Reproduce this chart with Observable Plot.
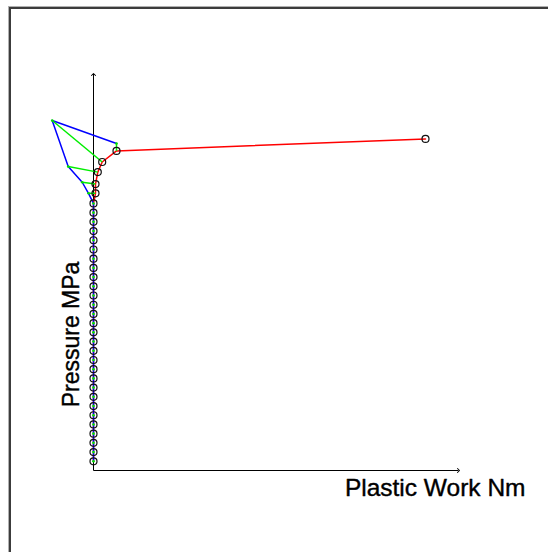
<!DOCTYPE html>
<html>
<head>
<meta charset="utf-8">
<script src="https://cdn.jsdelivr.net/npm/d3@7"></script>
<script src="https://cdn.jsdelivr.net/npm/@observablehq/plot@0.6"></script>
<style>
  html, body { margin: 0; padding: 0; background: #fff; overflow: hidden; }
  #wrap { position: relative; width: 548px; height: 552px; }
  #frame { position: absolute; left: 9px; top: 7px; width: 700px; height: 700px;
           border-left: 2px solid #3c3c3c; border-top: 2px solid #3c3c3c;
           box-shadow: -1px -1px 0 #b0b0b0; }
  #chart { position: absolute; left: 0; top: 0; }
</style>
</head>
<body>
<div id="wrap"><div id="frame"></div><div id="chart"></div></div>
<script>
// Converged states (circles, red path)
const workConverged = [0,0,0,0,0,0,0,0,0,0,0,0,0,0,0,0,0,0,0,0,0,0,0,0,0,0,0,0,0,
                       0.2, 0.2, 0.43, 0.87, 2.3, 33.2];
const pressureConverged = [1,2,3,4,5,6,7,8,9,10,11,12,13,14,15,16,17,18,19,20,21,22,23,24,25,26,27,28,29,
                           30.1, 31.1, 32.4, 33.5, 34.7, 36.0];
// Trial states (blue path, green connectors)
const workTrial = [0,0,0,0,0,0,0,0,0,0,0,0,0,0,0,0,0,0,0,0,0,0,0,0,0,0,0,0,0,
                   -0.5, -1.13, -2.53, -4.13, 2.3];
const pressureTrial = [1,2,3,4,5,6,7,8,9,10,11,12,13,14,15,16,17,18,19,20,21,22,23,24,25,26,27,28,29,
                       30.1, 31.3, 33.0, 38.0, 35.5];
const xDomain = [0, 36.5];
const yDomain = [0, 43];
const xLabel = "Plastic Work Nm";
const yLabel = "Pressure MPa";

const conv = workConverged.map((w, i) => ({w, p: pressureConverged[i]}));
const trial = workTrial.map((w, i) => ({w, p: pressureTrial[i], w2: workConverged[i], p2: pressureConverged[i]}));
const axes = [
  {x1: xDomain[0], y1: yDomain[0], x2: xDomain[1], y2: yDomain[0]},
  {x1: xDomain[0], y1: yDomain[0], x2: xDomain[0], y2: yDomain[1]}
];

const chart = Plot.plot({
  width: 548,
  height: 552,
  marginLeft: 93,
  marginRight: 90,
  marginTop: 74,
  marginBottom: 82,
  style: {background: "transparent", fontFamily: "Liberation Sans, Arial, sans-serif"},
  x: {domain: xDomain, axis: null},
  y: {domain: yDomain, axis: null},
  marks: [
    Plot.link(axes, {x1: "x1", y1: "y1", x2: "x2", y2: "y2", stroke: "black", strokeWidth: 1, markerEnd: "arrow"}),
    Plot.line(conv, {x: "w", y: "p", stroke: "#ff0000", strokeWidth: 1.5}),
    Plot.line(trial, {x: "w", y: "p", stroke: "#0000ff", strokeWidth: 1.5}),
    Plot.link(trial, {x1: "w", y1: "p", x2: "w2", y2: "p2", stroke: "#00ee00", strokeWidth: 1.5}),
    Plot.dot(trial, {x: "w", y: "p", r: 1.3, fill: "#00dd00", stroke: null}),
    Plot.dot(conv, {x: "w", y: "p", r: 3.5, stroke: "#111", strokeWidth: 1.2, fill: "none"}),
    Plot.text([xLabel], {text: d => d, frameAnchor: "bottom-right", textAnchor: "end", lineAnchor: "bottom",
      dx: 67, dy: 25, fontSize: 24.5, fill: "black", stroke: "black", strokeWidth: 0.4}),
    Plot.text([yLabel], {text: d => d, frameAnchor: "left", rotate: -90, textAnchor: "middle", lineAnchor: "bottom",
      dx: -15, dy: 62, fontSize: 23, fill: "black", stroke: "black", strokeWidth: 0.4})
  ]
});
document.getElementById("chart").appendChild(chart);
</script>
</body>
</html>
